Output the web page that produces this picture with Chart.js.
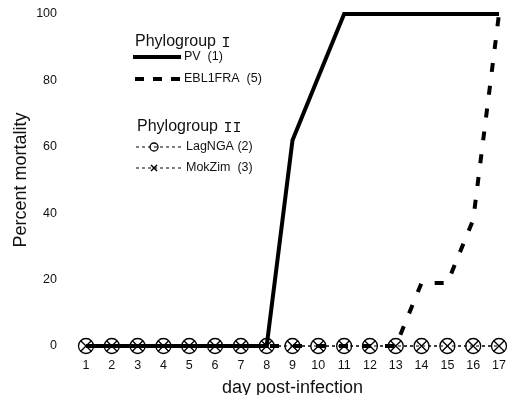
<!DOCTYPE html>
<html>
<head>
<meta charset="utf-8">
<script src="https://cdn.jsdelivr.net/npm/chart.js@4/dist/chart.umd.min.js"></script>
<style>
  html, body { margin: 0; padding: 0; background: #fff; }
  #c { display: block; }
</style>
</head>
<body>
<canvas id="c" width="509" height="395"></canvas>
<script>
// ---- data ----
const days = ['1','2','3','4','5','6','7','8','9','10','11','12','13','14','15','16','17'];
const pvValues      = [0,0,0,0,0,0,0,0,62,81,100,100,100,100,100,100,100];
const ebl1fraValues = [0,0,0,0,0,0,0,0,0,0,0,0,0,19,19,38,100];
const lagngaValues  = [0,0,0,0,0,0,0,0,0,0,0,0,0,0,0,0,0];
const mokzimValues  = [0,0,0,0,0,0,0,0,0,0,0,0,0,0,0,0,0];
const yTicks = [0, 20, 40, 60, 80, 100];

const legendGroupWord = 'Phylogroup';
const legendGroupNumerals = ['I', 'II'];
const legendLabels = ['PV  (1)', 'EBL1FRA  (5)', 'LagNGA (2)', 'MokZim  (3)'];
const xTitle = 'day post-infection';
const yTitle = 'Percent mortality';

const FONT = '"Liberation Sans", Arial, sans-serif';
const INK = '#000';

const legendPlugin = {
  id: 'customLegend',
  afterDraw(chart) {
    const ctx = chart.ctx;
    ctx.save();
    ctx.fillStyle = '#111';
    ctx.textBaseline = 'middle';
    ctx.textAlign = 'left';
    // group headers
    const heads = [[135, 42], [137, 127]];
    heads.forEach(([x, y], i) => {
      ctx.font = '16px ' + FONT;
      ctx.fillText(legendGroupWord, x, y);
      const w = ctx.measureText(legendGroupWord + ' ').width;
      ctx.font = '15px "Liberation Mono", monospace';
      ctx.fillText(legendGroupNumerals[i], x + w + 1, y + 1);
    });

    ctx.font = '12.5px ' + FONT;
    // PV
    ctx.strokeStyle = INK;
    ctx.lineWidth = 4;
    ctx.setLineDash([]);
    ctx.beginPath(); ctx.moveTo(133, 57); ctx.lineTo(181, 57); ctx.stroke();
    ctx.fillText(legendLabels[0], 184, 57);
    // EBL1FRA
    ctx.setLineDash([9, 9]);
    ctx.beginPath(); ctx.moveTo(135, 79); ctx.lineTo(181, 79); ctx.stroke();
    ctx.fillText(legendLabels[1], 184, 79);
    // LagNGA
    ctx.lineWidth = 1;
    ctx.setLineDash([3, 3]);
    ctx.beginPath(); ctx.moveTo(136, 147); ctx.lineTo(181, 147); ctx.stroke();
    ctx.setLineDash([]);
    ctx.lineWidth = 1.3;
    ctx.beginPath(); ctx.arc(154, 147, 4, 0, Math.PI * 2); ctx.stroke();
    ctx.fillText(legendLabels[2], 186, 147);
    // MokZim
    ctx.lineWidth = 1;
    ctx.setLineDash([3, 3]);
    ctx.beginPath(); ctx.moveTo(136, 168); ctx.lineTo(181, 168); ctx.stroke();
    ctx.setLineDash([]);
    ctx.lineWidth = 1.5;
    ctx.beginPath();
    ctx.moveTo(151, 165); ctx.lineTo(157, 171);
    ctx.moveTo(157, 165); ctx.lineTo(151, 171);
    ctx.stroke();
    ctx.fillText(legendLabels[3], 186, 168);
    ctx.restore();
  }
};

new Chart(document.getElementById('c'), {
  type: 'line',
  data: {
    labels: days,
    datasets: [
      { label: 'PV (1)', data: pvValues, borderColor: INK, borderWidth: 4,
        pointRadius: 0, tension: 0, clip: false },
      { label: 'EBL1FRA (5)', data: ebl1fraValues, borderColor: INK, borderWidth: 4,
        borderDash: [9, 14], borderCapStyle: 'butt', pointRadius: 0, tension: 0, clip: false },
      { label: 'MokZim (3)', data: mokzimValues, borderColor: INK, borderWidth: 1,
        borderDash: [3, 3], pointStyle: 'crossRot', pointRadius: 7.5, pointBorderWidth: 1.3,
        pointBorderColor: INK, pointBackgroundColor: INK, tension: 0, clip: false },
      { label: 'LagNGA (2)', data: lagngaValues, borderColor: INK, borderWidth: 1,
        borderDash: [3, 3], pointStyle: 'circle', pointRadius: 7.5, pointBorderWidth: 1.3,
        pointBorderColor: INK, pointBackgroundColor: '#fff', tension: 0, clip: false }
    ]
  },
  options: {
    responsive: false,
    animation: false,
    devicePixelRatio: 1,
    layout: { padding: { top: 14, right: 10, left: 0, bottom: 0 } },
    plugins: { legend: { display: false }, tooltip: { enabled: false } },
    scales: {
      x: {
        type: 'category',
        offset: false,
        grid: { display: false, drawTicks: false },
        border: { display: false },
        ticks: { color: '#111', font: { family: FONT, size: 12.5 }, padding: 12, maxRotation: 0, autoSkip: false },
        title: { display: true, text: xTitle, color: '#111', font: { family: FONT, size: 18 }, padding: { top: 0, bottom: -4 } },
        afterFit(scale) { scale.height = 49; scale.paddingLeft = 0; scale.paddingRight = 0; }
      },
      y: {
        min: 0, max: 100,
        afterBuildTicks(scale) { scale.ticks = yTicks.map(v => ({ value: v })); },
        grid: { display: false, drawTicks: false },
        border: { display: false },
        ticks: { color: '#111', font: { family: FONT, size: 12.5 }, padding: 29 },
        title: { display: true, text: yTitle, color: '#111', font: { family: FONT, size: 18 }, padding: { top: 10, bottom: 0 } },
        afterFit(scale) { scale.width = 86; scale.paddingTop = 0; scale.paddingBottom = 0; }
      }
    }
  },
  plugins: [legendPlugin]
});
</script>
</body>
</html>
